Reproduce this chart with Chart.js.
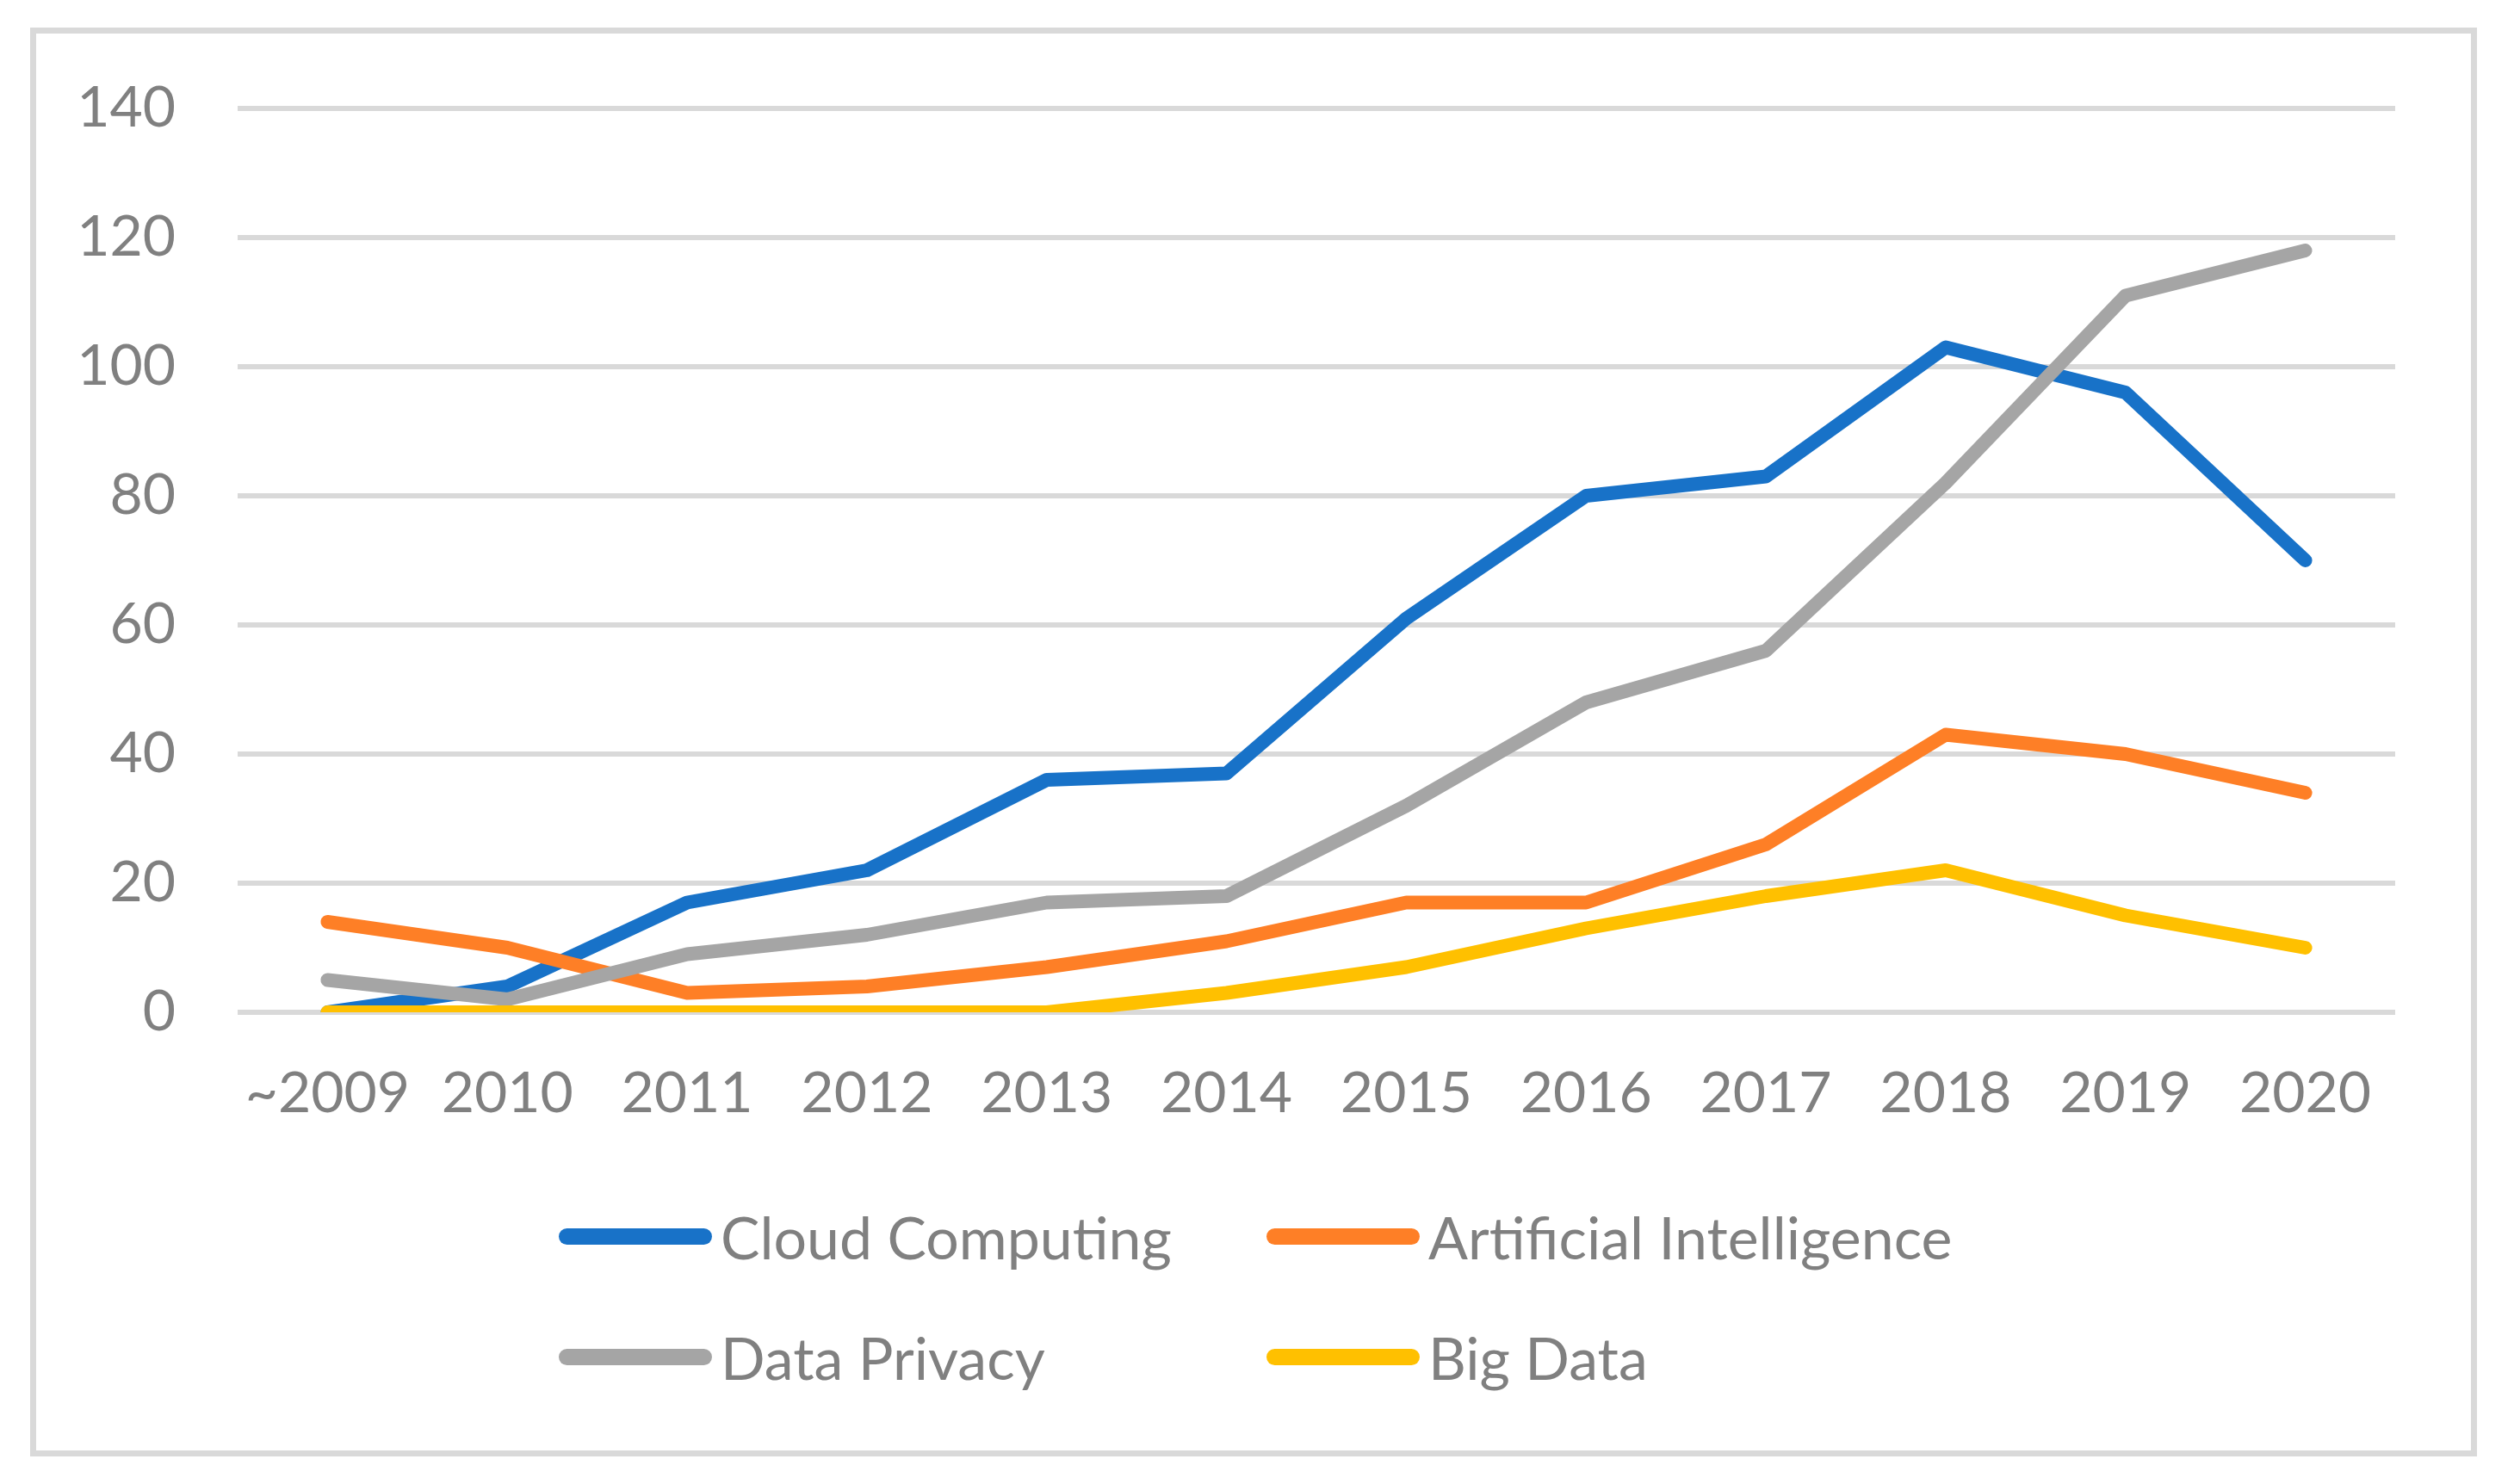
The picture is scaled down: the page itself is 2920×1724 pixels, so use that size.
<!DOCTYPE html>
<html lang="en">
<head>
  <meta charset="UTF-8" />
  <title>Publications by topic</title>
  <script src="https://cdn.jsdelivr.net/npm/chart.js"></script>
  <style>
    html, body { margin: 0; padding: 0; background: #fff; }
    body { width: 2920px; height: 1724px; position: relative; overflow: hidden; }
    #frame {
      position: absolute; left: 35px; top: 32px; width: 2842px; height: 1660px;
      border: 7px solid #d9d9d9; box-sizing: border-box;
    }
    #trendChart { position: absolute; left: 0; top: 0; }
    .legend-item {
      position: absolute; display: flex; align-items: center; height: 100px;
      font-family: Lato, "Open Sans", sans-serif; font-size: 68px; color: #808080;
      white-space: nowrap;
    }
    .legend-item .swatch {
      width: 178px; height: 19px; border-radius: 10px; margin-right: 10px;
    }
  </style>
</head>
<body>

  <div id="frame"></div>
  <canvas id="trendChart" width="2920" height="1724"></canvas>
  <div id="legend"></div>

  <script>
    // data
    const years = ['~2009', '2010', '2011', '2012', '2013', '2014', '2015', '2016', '2017', '2018', '2019', '2020'];
    const cloudComputing = [0, 4, 17, 22, 36, 37, 61, 80, 83, 103, 96, 70];
    const artificialIntelligence = [14, 10, 3, 4, 7, 11, 17, 17, 26, 43, 40, 34];
    const dataPrivacy = [5, 2, 9, 12, 17, 18, 32, 48, 56, 82, 111, 118];
    const bigData = [0, 0, 0, 0, 0, 3, 7, 13, 18, 22, 15, 10];
    const yMax = 140;
    const yStep = 20;

    const series = [
      { label: 'Cloud Computing', data: cloudComputing, color: '#1872c8' },
      { label: 'Artificial Intelligence', data: artificialIntelligence, color: '#fe7f26' },
      { label: 'Data Privacy', data: dataPrivacy, color: '#a5a5a5' },
      { label: 'Big Data', data: bigData, color: '#ffc000' }
    ];

    new Chart(document.getElementById('trendChart'), {
      type: 'line',
      data: {
        labels: years,
        datasets: series.map((s, i) => ({
          label: s.label,
          data: s.data,
          borderColor: s.color,
          backgroundColor: s.color,
          borderWidth: 16,
          borderCapStyle: 'round',
          borderJoinStyle: 'round',
          pointRadius: 0,
          tension: 0,
          order: series.length - i   // later series drawn on top, like Excel
        }))
      },
      options: {
        responsive: false,
        devicePixelRatio: 1,
        animation: false,
        layout: { padding: { left: 0, top: 126, right: 138, bottom: 0 } },
        plugins: { legend: { display: false }, tooltip: { enabled: false } },
        scales: {
          x: {
            offset: true,
            grid: { display: false, drawTicks: false },
            border: { display: false },
            ticks: {
              color: '#808080', padding: 55, maxRotation: 0, autoSkip: false,
              font: { family: 'Lato', size: 66, lineHeight: 1.2 }
            },
            afterFit: (scale) => { scale.height = 548; }
          },
          y: {
            min: 0, max: yMax,
            grid: { color: '#d9d9d9', lineWidth: 6, drawTicks: false },
            border: { display: false },
            ticks: {
              stepSize: yStep, color: '#808080', padding: 72,
              font: { family: 'Lato', size: 66 }
            },
            afterFit: (scale) => { scale.width = 276; }
          }
        }
      }
    });

    // legend: two columns, two rows
    const legendPos = [[649, 1386], [1471, 1386], [649, 1526], [1471, 1526]];
    const legend = document.getElementById('legend');
    series.forEach((s, i) => {
      const item = document.createElement('div');
      item.className = 'legend-item';
      item.style.left = legendPos[i][0] + 'px';
      item.style.top = legendPos[i][1] + 'px';
      item.innerHTML = '<span class="swatch" style="background:' + s.color + '"></span><span>' + s.label + '</span>';
      legend.appendChild(item);
    });
  </script>

</body>
</html>
